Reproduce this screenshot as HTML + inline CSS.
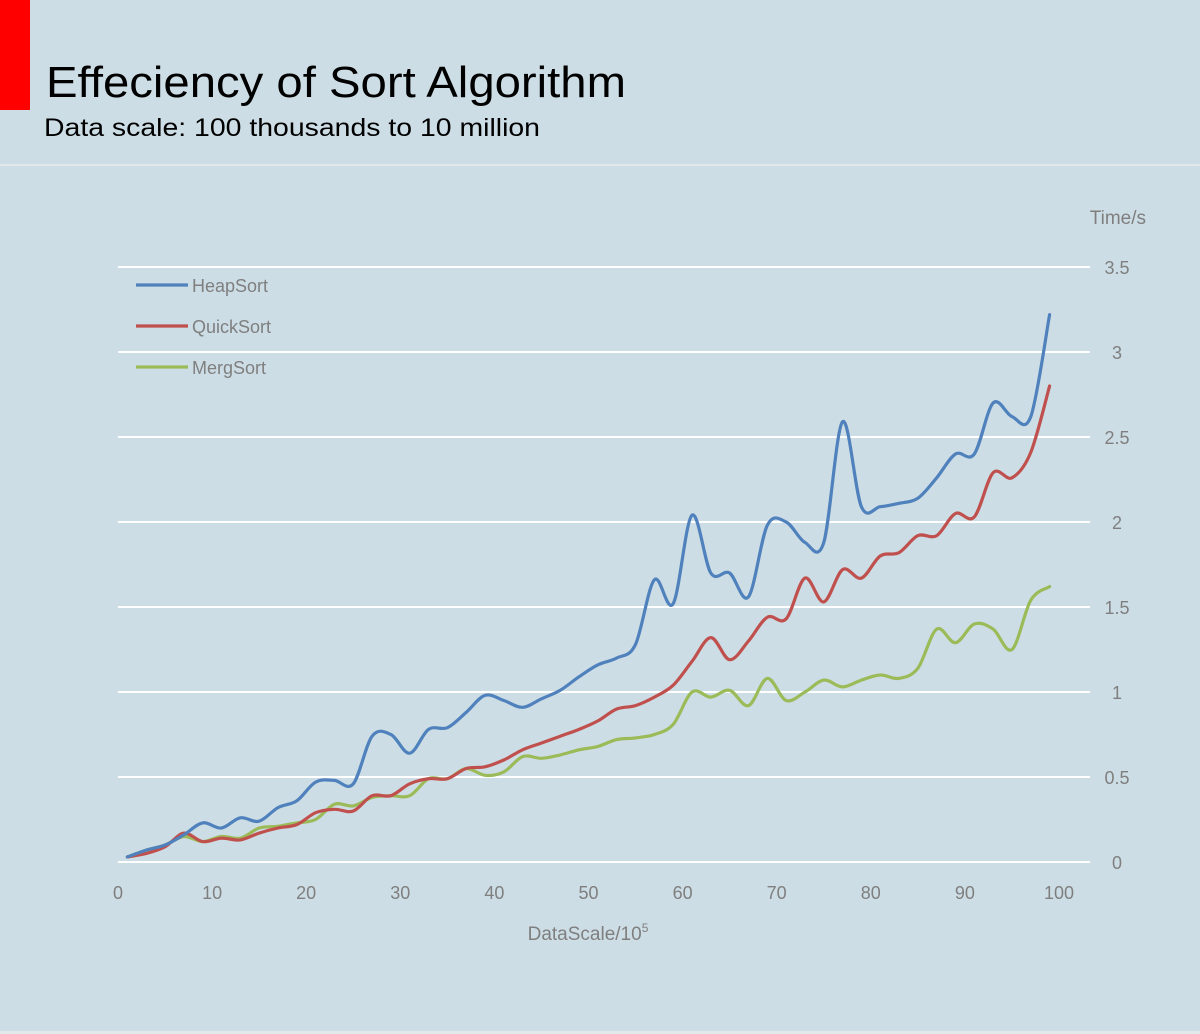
<!DOCTYPE html>
<html><head><meta charset="utf-8"><style>
html,body{margin:0;padding:0;background:#cddde5;}
svg{display:block;font-family:"Liberation Sans",sans-serif;}
</style></head><body>
<svg id="chart" width="1200" height="1034" viewBox="0 0 1200 1034">
<rect x="0" y="0" width="1200" height="1034" fill="#cddde5"/>
<rect x="0" y="0" width="30" height="110" fill="#ff0000"/>
<text x="46" y="97" font-size="44" fill="#000" textLength="580" lengthAdjust="spacingAndGlyphs">Effeciency of Sort Algorithm</text>
<text x="44" y="136" font-size="25" fill="#000" textLength="496" lengthAdjust="spacingAndGlyphs">Data scale: 100 thousands to 10 million</text>
<rect x="0" y="164" width="1200" height="2" fill="#e3e8ea"/>
<rect x="0" y="1031" width="1200" height="3" fill="#e3e8ea"/>
<g id="grid"></g>
<g id="series"></g>
<g id="legend"></g>
<text x="1146" y="224" font-size="19" fill="#7f7f7f" text-anchor="end">Time/s</text>
<text x="588" y="940" font-size="19" fill="#7f7f7f" text-anchor="middle">DataScale/10<tspan dy="-8" font-size="12">5</tspan></text>
</svg>
<script>
const xs = [1,3,5,7,9,11,13,15,17,19,21,23,25,27,29,31,33,35,37,39,41,43,45,47,49,51,53,55,57,59,61,63,65,67,69,71,73,75,77,79,81,83,85,87,89,91,93,95,97,99];
const heapSort = [0.03,0.07,0.10,0.16,0.23,0.20,0.26,0.24,0.32,0.36,0.47,0.48,0.46,0.74,0.75,0.64,0.78,0.79,0.88,0.98,0.95,0.91,0.96,1.01,1.09,1.16,1.20,1.28,1.66,1.52,2.04,1.70,1.70,1.56,1.98,2.00,1.88,1.88,2.59,2.09,2.09,2.11,2.14,2.26,2.40,2.40,2.70,2.62,2.62,3.22];
const quickSort = [0.03,0.05,0.09,0.17,0.12,0.14,0.13,0.17,0.20,0.22,0.29,0.31,0.30,0.39,0.39,0.46,0.49,0.49,0.55,0.56,0.60,0.66,0.70,0.74,0.78,0.83,0.90,0.92,0.97,1.04,1.18,1.32,1.19,1.30,1.44,1.43,1.67,1.53,1.72,1.67,1.80,1.82,1.92,1.92,2.05,2.03,2.29,2.26,2.41,2.80];
const mergSort = [0.03,0.07,0.10,0.15,0.12,0.15,0.14,0.20,0.21,0.23,0.25,0.34,0.33,0.38,0.39,0.39,0.49,0.49,0.55,0.51,0.53,0.62,0.61,0.63,0.66,0.68,0.72,0.73,0.75,0.81,1.00,0.97,1.01,0.92,1.08,0.95,1.00,1.07,1.03,1.07,1.10,1.08,1.14,1.37,1.29,1.40,1.37,1.25,1.54,1.62];
const yTicks = [0,0.5,1,1.5,2,2.5,3,3.5];
const yTickLabels = ["0","0.5","1","1.5","2","2.5","3","3.5"];
const xTicks = [0,10,20,30,40,50,60,70,80,90,100];
const seriesNames = ["HeapSort","QuickSort","MergSort"];
const seriesColors = ["#4f81bd","#c0504d","#9bbb59"];

const NS="http://www.w3.org/2000/svg";
const X = v => 118 + v*9.41;
const Y = v => 862 - v*170;
function mk(tag, attrs, parent){const e=document.createElementNS(NS,tag);for(const k in attrs)e.setAttribute(k,attrs[k]);parent.appendChild(e);return e;}
const grid=document.getElementById('grid');
yTicks.forEach((t,i)=>{
  const l=mk('line',{x1:118,x2:1090,y1:Y(t),y2:Y(t),stroke:'#ffffff','stroke-width':2},grid);
  
  
  const tx=mk('text',{x:1117,y:Y(t)+7,'font-size':18,fill:'#7f7f7f','text-anchor':'middle'},grid);
  tx.textContent=yTickLabels[i];
  
  
});
xTicks.forEach(t=>{
  const tx=mk('text',{x:X(t),y:899,'font-size':18,fill:'#7f7f7f','text-anchor':'middle'},grid);
  tx.textContent=String(t);
  
  
});
function smooth(pts){
  let d=`M${pts[0][0]},${pts[0][1]}`;
  for(let i=0;i<pts.length-1;i++){
    const p0=pts[Math.max(0,i-1)],p1=pts[i],p2=pts[i+1],p3=pts[Math.min(pts.length-1,i+2)];
    const t=1/6;
    const c1=[p1[0]+(p2[0]-p0[0])*t,p1[1]+(p2[1]-p0[1])*t];
    const c2=[p2[0]-(p3[0]-p1[0])*t,p2[1]-(p3[1]-p1[1])*t];
    d+=` C${c1[0].toFixed(1)},${c1[1].toFixed(1)} ${c2[0].toFixed(1)},${c2[1].toFixed(1)} ${p2[0].toFixed(1)},${p2[1].toFixed(1)}`;
  }
  return d;
}
const ser=document.getElementById('series');
[mergSort,quickSort,heapSort].forEach((vals,k)=>{
  const idx=2-k;
  const pts=xs.map((x,i)=>[X(x),Y(vals[i])]);
  const p=mk('path',{d:smooth(pts),fill:'none',stroke:seriesColors[idx],'stroke-width':3.2,'stroke-linecap':'round','stroke-linejoin':'round'},ser);
  
  
});
const leg=document.getElementById('legend');
seriesNames.forEach((n,i)=>{
  const y=285+i*41;
  const l=mk('line',{x1:136,x2:188,y1:y,y2:y,stroke:seriesColors[i],'stroke-width':3.2},leg);
  
  
  const t=mk('text',{x:192,y:y+7,'font-size':18,fill:'#7f7f7f'},leg);
  t.textContent=n;
  
  
});
</script>
</body></html>
